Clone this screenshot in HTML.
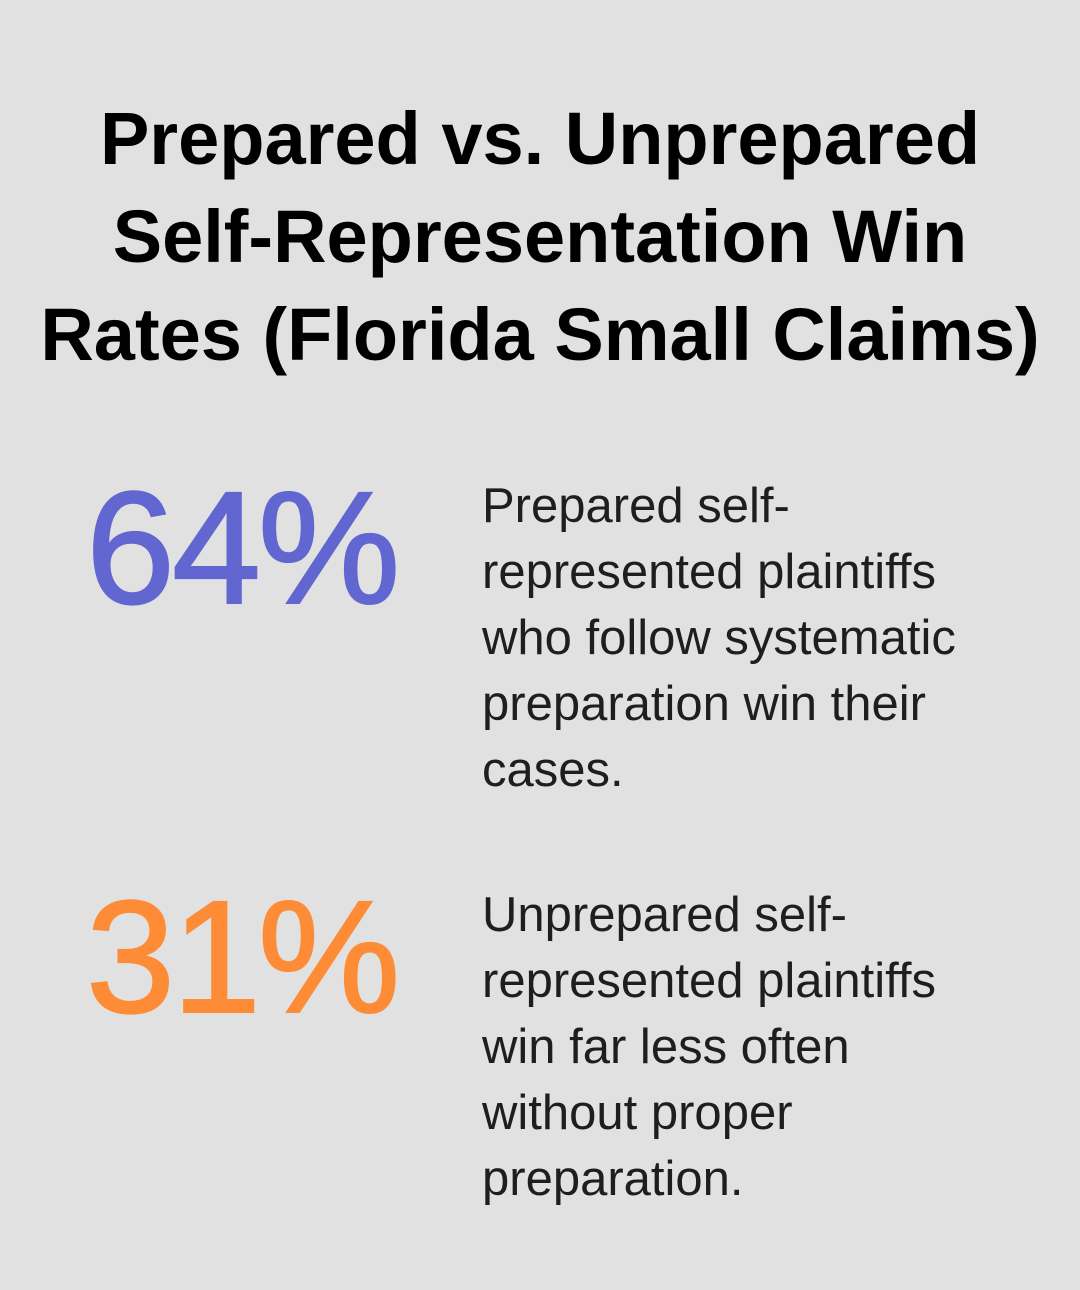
<!DOCTYPE html>
<html>
<head>
<meta charset="utf-8">
<style>
  html, body { margin:0; padding:0; }
  body { width:1080px; height:1290px; background:#e0e1e0; position:relative; overflow:hidden; font-family:"Liberation Sans", Arial, sans-serif; }
  .title { position:absolute; left:0; top:90px; width:1080px; text-align:center; font-weight:bold; font-size:74px; line-height:98px; color:#000; white-space:nowrap; }
  .num { position:absolute; left:86px; font-size:160px; line-height:160px; letter-spacing:-3px; white-space:nowrap; -webkit-text-stroke:2px currentColor; }
  .blue { color:#6166d0; top:468px; }
  .orange { color:#fe8c36; top:877px; }
  .txt { position:absolute; left:482px; font-size:49px; line-height:66px; color:#1e1e1e; white-space:nowrap; }
</style>
</head>
<body>
  <div class="title">Prepared vs. Unprepared<br>Self-Representation Win<br>Rates (Florida Small Claims)</div>
  <div class="num blue">64%</div>
  <div class="txt" style="top:473px;">Prepared self-<br>represented plaintiffs<br>who follow systematic<br>preparation win their<br>cases.</div>
  <div class="num orange">31%</div>
  <div class="txt" style="top:882px;">Unprepared self-<br>represented plaintiffs<br>win far less often<br>without proper<br>preparation.</div>
</body>
</html>
